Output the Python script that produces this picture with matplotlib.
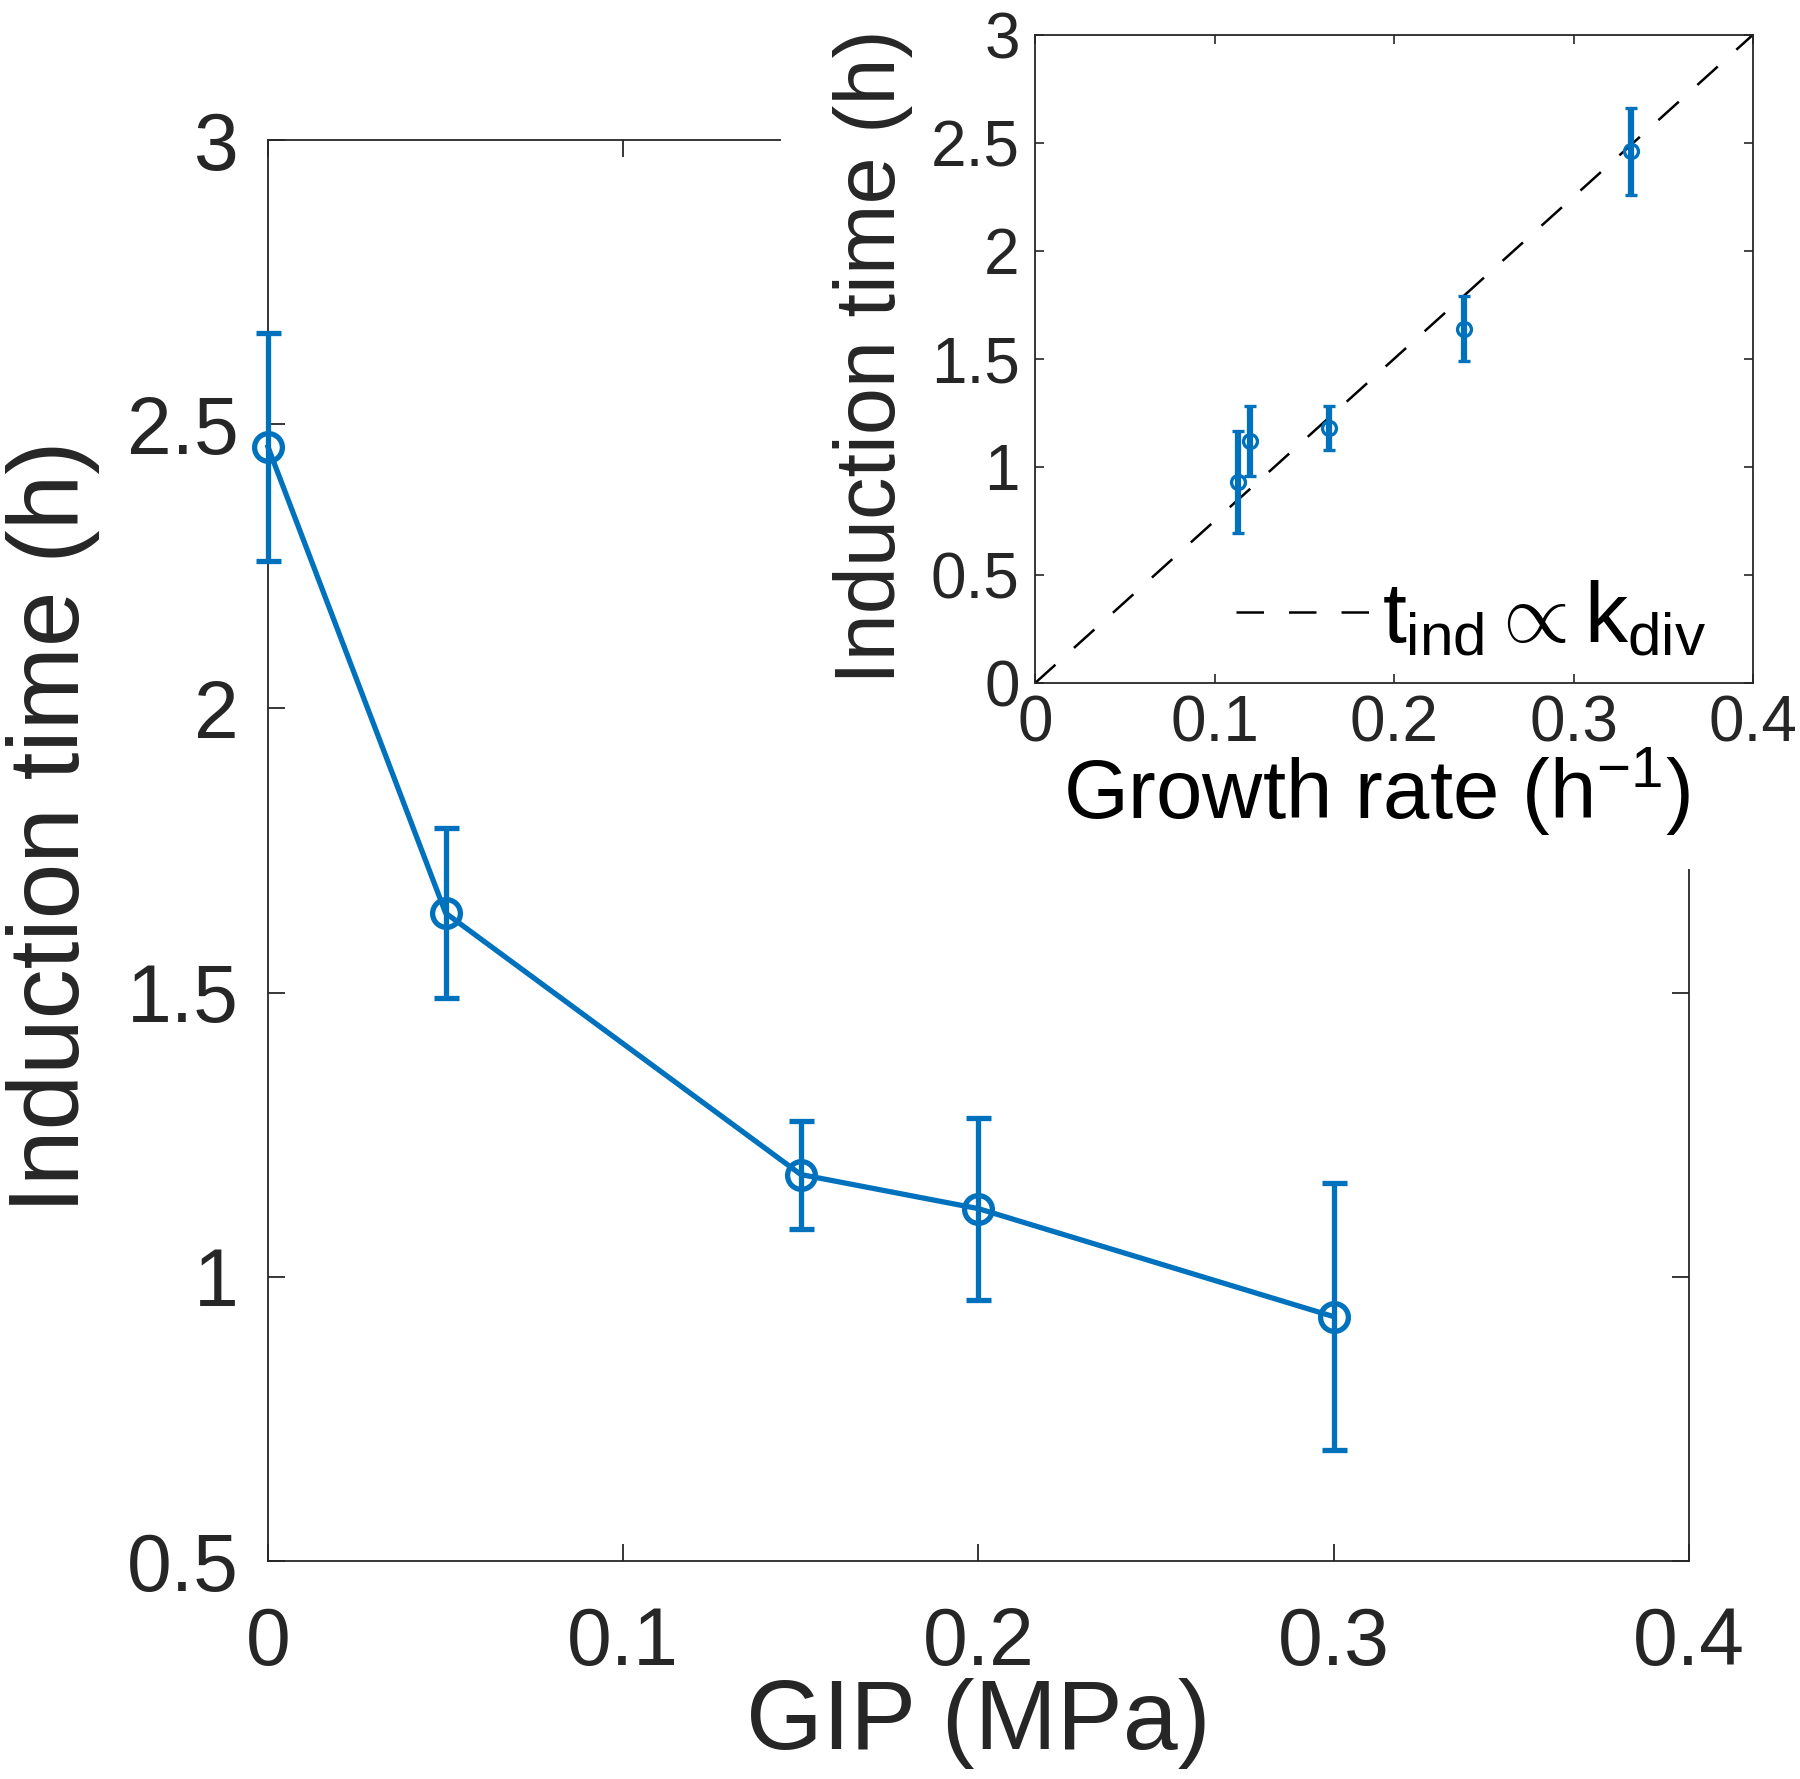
import matplotlib.pyplot as plt
from matplotlib.patches import Rectangle

plt.rcParams['font.family'] = ['Liberation Sans', 'DejaVu Sans']
plt.rcParams['mathtext.fontset'] = 'custom'
plt.rcParams['mathtext.rm'] = 'Liberation Sans'
plt.rcParams['mathtext.it'] = 'Liberation Sans'
plt.rcParams['mathtext.sf'] = 'Liberation Sans'

# Main panel: induction time vs GIP
gip = [0, 0.05, 0.15, 0.2, 0.3]
induction = [2.46, 1.64, 1.18, 1.12, 0.93]
induction_err = [0.20, 0.15, 0.095, 0.16, 0.235]

main_xticks = [0, 0.1, 0.2, 0.3, 0.4]
main_xticklabels = ['0', '0.1', '0.2', '0.3', '0.4']
main_yticks = [0.5, 1, 1.5, 2, 2.5, 3]
main_yticklabels = ['0.5', '1', '1.5', '2', '2.5', '3']

# Inset: induction time vs growth rate
growth_rate = [0.113, 0.120, 0.164, 0.239, 0.332]
inset_induction = [0.93, 1.12, 1.18, 1.64, 2.46]
inset_err = [0.235, 0.16, 0.10, 0.15, 0.20]
fit_x = [0, 0.4]
fit_y = [0, 3.0]

inset_xticks = [0, 0.1, 0.2, 0.3, 0.4]
inset_xticklabels = ['0', '0.1', '0.2', '0.3', '0.4']
inset_yticks = [0, 0.5, 1, 1.5, 2, 2.5, 3]
inset_yticklabels = ['0', '0.5', '1', '1.5', '2', '2.5', '3']

blue = '#0072BD'
dark = '#262626'

fig = plt.figure(figsize=(18, 17.79), dpi=100)

# main axes
ax = fig.add_axes([0.1489, 0.1225, 0.7894, 0.7988])
ax.errorbar(gip, induction, yerr=induction_err, color=blue, lw=3.8,
            marker='o', ms=20, mfc='none', mew=3.8,
            elinewidth=3.8, capsize=9, capthick=3.8, clip_on=False, zorder=3)
ax.set_xlim(0, 0.4)
ax.set_ylim(0.5, 3)
ax.set_xticks(main_xticks)
ax.set_xticklabels(main_xticklabels)
ax.set_yticks(main_yticks)
ax.set_yticklabels(main_yticklabels)
ax.tick_params(direction='in', length=12, width=1.3, top=True, right=True,
               labelsize=58, colors=dark)
ax.tick_params(axis='x', pad=32)
ax.tick_params(axis='y', pad=21)
for s in ax.spines.values():
    s.set_color(dark)
    s.set_linewidth(1.3)
ax.set_xlabel('GIP (MPa)', fontsize=71, color=dark)
ax.set_ylabel('Induction time (h)', fontsize=72, color=dark)
ax.xaxis.set_label_coords(0.5, -0.082)
ax.yaxis.set_label_coords(-0.118, 0.5165)

# white background behind the inset
fig.add_artist(Rectangle((0.4339, 0.5115), 0.57, 0.49, transform=fig.transFigure,
                         facecolor='white', edgecolor='none', zorder=1))

# inset axes
axin = fig.add_axes([0.575, 0.616, 0.399, 0.3646])
axin.set_zorder(2)
fit_line, = axin.plot(fit_x, fit_y, color='black', lw=1.8, dashes=[11, 10])
axin.errorbar(growth_rate, inset_induction, yerr=inset_err, color=blue, lw=0,
              marker='o', ms=10, mfc='none', mew=2.4,
              elinewidth=4.5, capsize=4, capthick=4.5)
axin.set_xlim(0, 0.4)
axin.set_ylim(0, 3)
axin.set_xticks(inset_xticks)
axin.set_xticklabels(inset_xticklabels)
axin.set_yticks(inset_yticks)
axin.set_yticklabels(inset_yticklabels)
axin.tick_params(direction='in', length=6.5, width=1.2, top=True, right=True,
                 labelsize=46, colors=dark)
axin.tick_params(axis='x', pad=8)
axin.tick_params(axis='y', pad=11)
for s in axin.spines.values():
    s.set_color(dark)
    s.set_linewidth(1.3)
axin.set_xlabel(r'Growth rate (h$^{\mathregular{-1}}$)', fontsize=60, color='black')
axin.set_ylabel('Induction time (h)', fontsize=61, color=dark)
axin.xaxis.set_label_coords(0.476, -0.096)
axin.yaxis.set_label_coords(-0.17, 0.504)
axin.legend([fit_line], [r'$t_{ind} \propto k_{div}$'], loc='lower right',
            frameon=False, fontsize=62, handlelength=1.6, handletextpad=0.1,
            borderpad=0, borderaxespad=0, bbox_to_anchor=(0.935, 0.035))

fig.savefig('out.png', dpi=100)
